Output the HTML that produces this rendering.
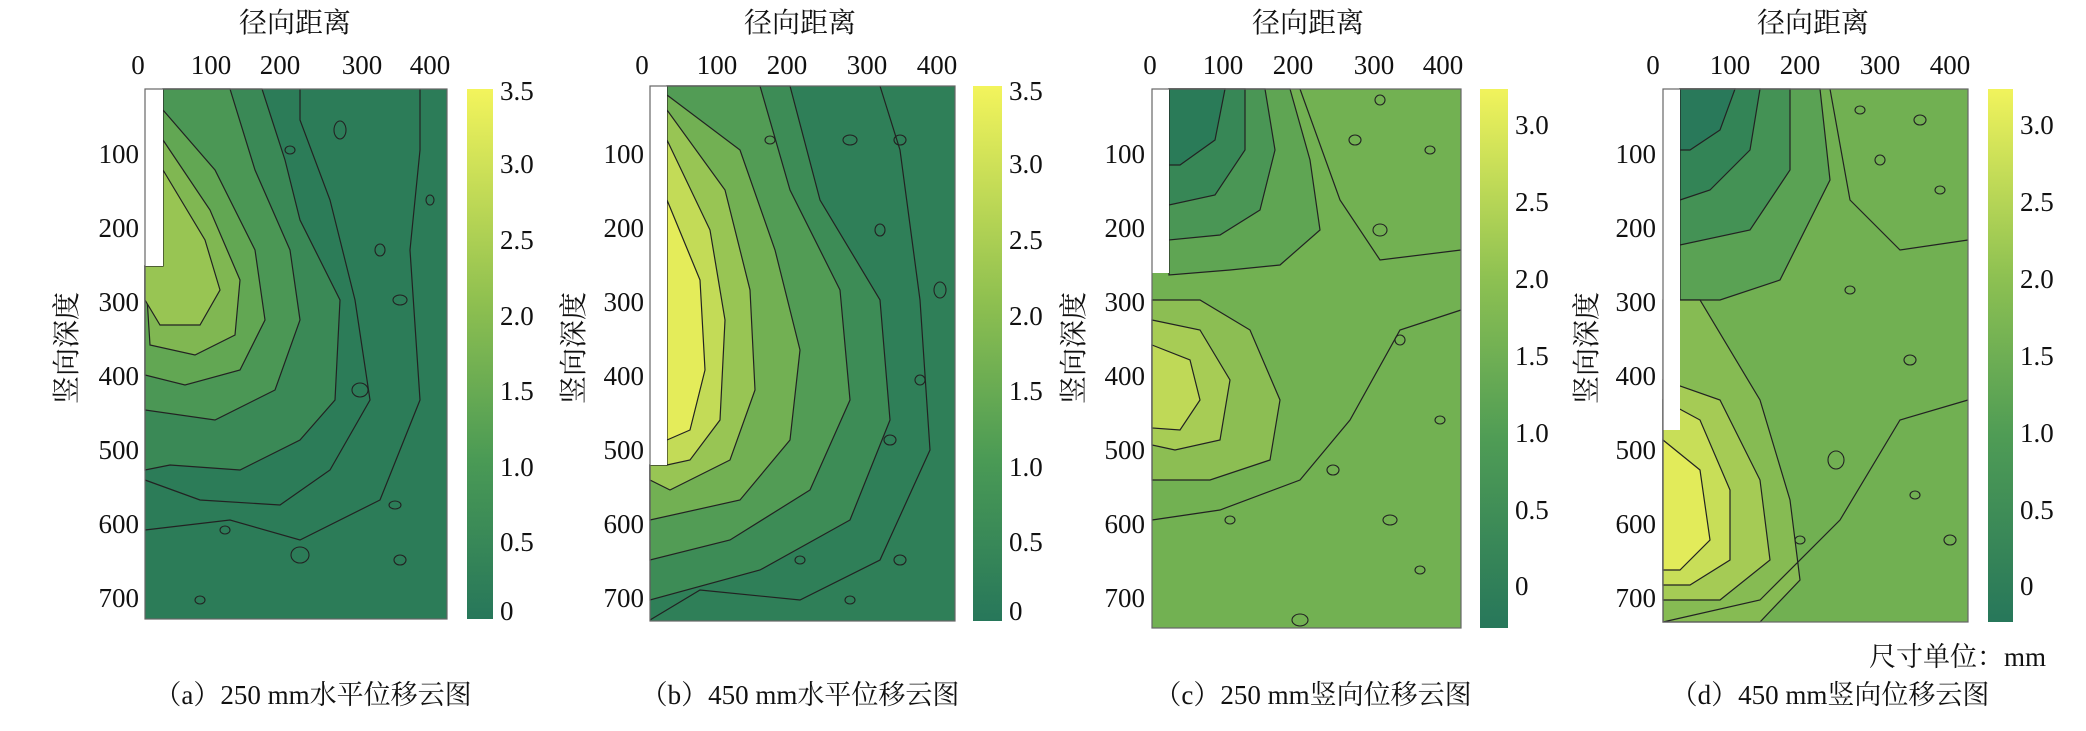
<!DOCTYPE html>
<html><head><meta charset="utf-8"><style>
html,body{margin:0;padding:0;background:#fff;}
svg{display:block;}
text{font-family:"Liberation Serif","Noto Serif CJK SC",serif;fill:#111;}
.t{font-size:27px;}
.h{font-size:28px;}
</style></head><body>
<svg width="2086" height="731" viewBox="0 0 2086 731" xmlns="http://www.w3.org/2000/svg" font-family="Liberation Serif, Noto Serif CJK SC, serif">
<defs>
<linearGradient id="cb" x1="0" y1="1" x2="0" y2="0">
<stop offset="0" stop-color="#27775a"/><stop offset="0.3" stop-color="#4a9a55"/>
<stop offset="0.6" stop-color="#8fc050"/><stop offset="1" stop-color="#f3f45c"/>
</linearGradient>
<linearGradient id="cb2" x1="0" y1="1" x2="0" y2="0">
<stop offset="0" stop-color="#27775a"/><stop offset="0.35" stop-color="#4f9c55"/>
<stop offset="0.65" stop-color="#8ec152"/><stop offset="1" stop-color="#f1f35c"/>
</linearGradient>
</defs>
<g stroke="#222" stroke-width="1.2" fill="none">
<!-- Panel a -->
<rect x="145" y="89" width="302" height="530" fill="#2c7c58" stroke="none"/>
<path d="M163,89 L262,89 L285,160 L300,220 L340,300 L335,400 L300,440 L240,470 L170,465 L145,470 L145,266 L163,266Z" fill="#3a8956"/>
<path d="M163,89 L230,89 L255,170 L290,250 L300,320 L275,390 L215,420 L145,410 L145,266 L163,266Z" fill="#4b9755"/>
<path d="M163,110 L215,170 L255,250 L265,320 L240,370 L185,385 L145,375 L145,266 L163,266Z" fill="#62a753"/>
<path d="M163,140 L210,210 L240,280 L235,335 L195,355 L150,345 L145,266 L163,266Z" fill="#80b752"/>
<path d="M163,170 L205,240 L220,290 L200,325 L160,325 L145,300 L145,266 L163,266Z" fill="#98c553"/>
<path d="M145,480 L200,500 L280,505 L330,470 L370,400 L355,300 L330,200 L300,120 L300,89"/>
<path d="M145,530 L230,520 L300,540 L380,500 L420,400 L410,250 L420,150 L420,89"/>
<rect x="145" y="89" width="18" height="177" fill="#fff" stroke="none"/>
<rect x="145" y="89" width="302" height="530" stroke="#666"/>
<!-- Panel b -->
<rect x="650" y="86" width="305" height="535" fill="#2f7f58" stroke="none"/>
<path d="M667,86 L790,86 L820,200 L880,300 L890,420 L850,520 L760,570 L650,600 L650,465 L667,465Z" fill="#3d8c56"/>
<path d="M667,86 L760,86 L790,190 L840,290 L850,400 L810,490 L730,540 L650,560 L650,465 L667,465Z" fill="#529c55"/>
<path d="M667,95 L740,150 L775,250 L800,350 L790,440 L740,500 L650,520 L650,465 L667,465Z" fill="#72b053"/>
<path d="M667,110 L725,190 L750,290 L755,390 L730,460 L670,490 L650,480 L650,465 L667,465Z" fill="#98c554"/>
<path d="M667,140 L710,230 L725,320 L720,420 L690,460 L667,465Z" fill="#c3db57"/>
<path d="M667,200 L700,280 L705,370 L690,430 L667,440Z" fill="#e4ec5a"/>
<path d="M650,620 L700,590 L800,600 L880,560 L930,450 L920,300 L900,150 L880,86"/>
<rect x="650" y="86" width="17" height="379" fill="#fff" stroke="none"/>
<rect x="650" y="86" width="305" height="535" stroke="#666"/>
<!-- Panel c -->
<rect x="1152" y="89" width="309" height="539" fill="#72b152" stroke="none"/>
<path d="M1169,89 L1290,89 L1310,160 L1320,230 L1280,265 L1230,270 L1169,275Z" fill="#5fa553"/>
<path d="M1169,89 L1265,89 L1275,150 L1260,210 L1220,235 L1169,240Z" fill="#4a9655"/>
<path d="M1169,89 L1245,89 L1245,150 L1215,195 L1169,205Z" fill="#378756"/>
<path d="M1169,89 L1225,89 L1215,140 L1180,165 L1169,165Z" fill="#2a7b58"/>
<path d="M1152,300 L1200,300 L1250,330 L1280,400 L1270,460 L1210,480 L1152,480Z" fill="#8cbe53"/>
<path d="M1152,320 L1200,330 L1230,380 L1220,440 L1175,450 L1152,445Z" fill="#a7cc55"/>
<path d="M1152,345 L1190,360 L1200,400 L1180,430 L1152,428Z" fill="#bfd957"/>
<path d="M1152,520 L1220,510 L1300,480 L1350,420 L1400,330 L1461,310"/>
<path d="M1300,89 L1340,200 L1380,260 L1461,250"/>
<rect x="1152" y="89" width="17" height="184" fill="#fff" stroke="none"/>
<rect x="1152" y="89" width="309" height="539" stroke="#666"/>
<!-- Panel d -->
<rect x="1663" y="89" width="305" height="533" fill="#71b052" stroke="none"/>
<path d="M1680,89 L1820,89 L1830,180 L1780,280 L1720,300 L1680,300Z" fill="#5aa254"/>
<path d="M1680,89 L1790,89 L1790,170 L1750,230 L1680,245Z" fill="#449255"/>
<path d="M1680,89 L1760,89 L1750,150 L1710,190 L1680,200Z" fill="#338456"/>
<path d="M1680,89 L1735,89 L1720,130 L1690,150 L1680,150Z" fill="#29795a"/>
<path d="M1663,300 L1700,300 L1760,400 L1790,500 L1800,580 L1760,622 L1663,622Z" fill="#86bb53"/>
<path d="M1663,380 L1720,400 L1760,480 L1770,560 L1720,600 L1663,600Z" fill="#a5cb55"/>
<path d="M1663,400 L1700,420 L1730,490 L1730,560 L1690,585 L1663,585Z" fill="#c8de58"/>
<path d="M1663,440 L1700,470 L1710,540 L1680,570 L1663,570Z" fill="#e2eb5a"/>
<path d="M1663,622 L1760,600 L1840,520 L1900,420 L1968,400"/>
<path d="M1830,89 L1850,200 L1900,250 L1968,240"/>
<rect x="1663" y="89" width="17" height="341" fill="#fff" stroke="none"/>
<rect x="1663" y="89" width="305" height="533" stroke="#666"/>
<!-- small contour blobs -->
<g stroke-width="1.1">
<ellipse cx="340" cy="130" rx="6" ry="9"/><ellipse cx="290" cy="150" rx="5" ry="4"/><ellipse cx="380" cy="250" rx="5" ry="6"/><ellipse cx="400" cy="300" rx="7" ry="5"/><ellipse cx="430" cy="200" rx="4" ry="5"/><ellipse cx="360" cy="390" rx="8" ry="7"/><ellipse cx="395" cy="505" rx="6" ry="4"/><ellipse cx="300" cy="555" rx="9" ry="8"/><ellipse cx="225" cy="530" rx="5" ry="4"/><ellipse cx="400" cy="560" rx="6" ry="5"/><ellipse cx="200" cy="600" rx="5" ry="4"/>
<ellipse cx="770" cy="140" rx="5" ry="4"/><ellipse cx="850" cy="140" rx="7" ry="5"/><ellipse cx="900" cy="140" rx="6" ry="5"/><ellipse cx="880" cy="230" rx="5" ry="6"/><ellipse cx="940" cy="290" rx="6" ry="8"/><ellipse cx="920" cy="380" rx="5" ry="5"/><ellipse cx="890" cy="440" rx="6" ry="5"/><ellipse cx="900" cy="560" rx="6" ry="5"/><ellipse cx="800" cy="560" rx="5" ry="4"/><ellipse cx="850" cy="600" rx="5" ry="4"/>
<ellipse cx="1380" cy="100" rx="5" ry="5"/><ellipse cx="1355" cy="140" rx="6" ry="5"/><ellipse cx="1430" cy="150" rx="5" ry="4"/><ellipse cx="1380" cy="230" rx="7" ry="6"/><ellipse cx="1400" cy="340" rx="5" ry="5"/><ellipse cx="1333" cy="470" rx="6" ry="5"/><ellipse cx="1440" cy="420" rx="5" ry="4"/><ellipse cx="1390" cy="520" rx="7" ry="5"/><ellipse cx="1420" cy="570" rx="5" ry="4"/><ellipse cx="1300" cy="620" rx="8" ry="6"/><ellipse cx="1230" cy="520" rx="5" ry="4"/>
<ellipse cx="1860" cy="110" rx="5" ry="4"/><ellipse cx="1920" cy="120" rx="6" ry="5"/><ellipse cx="1880" cy="160" rx="5" ry="5"/><ellipse cx="1940" cy="190" rx="5" ry="4"/><ellipse cx="1850" cy="290" rx="5" ry="4"/><ellipse cx="1910" cy="360" rx="6" ry="5"/><ellipse cx="1836" cy="460" rx="8" ry="9"/><ellipse cx="1915" cy="495" rx="5" ry="4"/><ellipse cx="1950" cy="540" rx="6" ry="5"/><ellipse cx="1800" cy="540" rx="5" ry="4"/>
</g>
</g>
<!-- colorbars -->
<rect x="467" y="89" width="26" height="530" fill="url(#cb)"/>
<rect x="973" y="86" width="29" height="535" fill="url(#cb)"/>
<rect x="1480" y="89" width="28" height="539" fill="url(#cb2)"/>
<rect x="1988" y="89" width="25" height="533" fill="url(#cb2)"/>
<g class="t" font-size="27">
<text class="h" x="295" y="32" text-anchor="middle">径向距离</text>
<text class="h" x="800" y="32" text-anchor="middle">径向距离</text>
<text class="h" x="1308" y="32" text-anchor="middle">径向距离</text>
<text class="h" x="1813" y="32" text-anchor="middle">径向距离</text>
<g text-anchor="middle">
<text x="138" y="74">0</text><text x="211" y="74">100</text><text x="280" y="74">200</text><text x="362" y="74">300</text><text x="430" y="74">400</text>
<text x="642" y="74">0</text><text x="717" y="74">100</text><text x="787" y="74">200</text><text x="867" y="74">300</text><text x="937" y="74">400</text>
<text x="1150" y="74">0</text><text x="1223" y="74">100</text><text x="1293" y="74">200</text><text x="1374" y="74">300</text><text x="1443" y="74">400</text>
<text x="1653" y="74">0</text><text x="1730" y="74">100</text><text x="1800" y="74">200</text><text x="1880" y="74">300</text><text x="1950" y="74">400</text>
</g>
<g text-anchor="end">
<text x="139" y="163">100</text><text x="139" y="237">200</text><text x="139" y="311">300</text><text x="139" y="385">400</text><text x="139" y="459">500</text><text x="139" y="533">600</text><text x="139" y="607">700</text>
<text x="644" y="163">100</text><text x="644" y="237">200</text><text x="644" y="311">300</text><text x="644" y="385">400</text><text x="644" y="459">500</text><text x="644" y="533">600</text><text x="644" y="607">700</text>
<text x="1145" y="163">100</text><text x="1145" y="237">200</text><text x="1145" y="311">300</text><text x="1145" y="385">400</text><text x="1145" y="459">500</text><text x="1145" y="533">600</text><text x="1145" y="607">700</text>
<text x="1656" y="163">100</text><text x="1656" y="237">200</text><text x="1656" y="311">300</text><text x="1656" y="385">400</text><text x="1656" y="459">500</text><text x="1656" y="533">600</text><text x="1656" y="607">700</text>
</g>
<g>
<text x="500" y="100">3.5</text><text x="500" y="173">3.0</text><text x="500" y="249">2.5</text><text x="500" y="325">2.0</text><text x="500" y="400">1.5</text><text x="500" y="476">1.0</text><text x="500" y="551">0.5</text><text x="500" y="620">0</text>
<text x="1009" y="100">3.5</text><text x="1009" y="173">3.0</text><text x="1009" y="249">2.5</text><text x="1009" y="325">2.0</text><text x="1009" y="400">1.5</text><text x="1009" y="476">1.0</text><text x="1009" y="551">0.5</text><text x="1009" y="620">0</text>
<text x="1515" y="134">3.0</text><text x="1515" y="211">2.5</text><text x="1515" y="288">2.0</text><text x="1515" y="365">1.5</text><text x="1515" y="442">1.0</text><text x="1515" y="519">0.5</text><text x="1515" y="595">0</text>
<text x="2020" y="134">3.0</text><text x="2020" y="211">2.5</text><text x="2020" y="288">2.0</text><text x="2020" y="365">1.5</text><text x="2020" y="442">1.0</text><text x="2020" y="519">0.5</text><text x="2020" y="595">0</text>
</g>
<text class="h" transform="translate(76,348) rotate(-90)" text-anchor="middle">竖向深度</text>
<text class="h" transform="translate(583,348) rotate(-90)" text-anchor="middle">竖向深度</text>
<text class="h" transform="translate(1083,348) rotate(-90)" text-anchor="middle">竖向深度</text>
<text class="h" transform="translate(1596,348) rotate(-90)" text-anchor="middle">竖向深度</text>
<g text-anchor="middle">
<text x="313" y="704">（a）250 mm水平位移云图</text>
<text x="800" y="704">（b）450 mm水平位移云图</text>
<text x="1313" y="704">（c）250 mm竖向位移云图</text>
<text x="1830" y="704">（d）450 mm竖向位移云图</text>
</g>
<text x="2046" y="666" text-anchor="end">尺寸单位：mm</text>
</g>
</svg>
</body></html>
